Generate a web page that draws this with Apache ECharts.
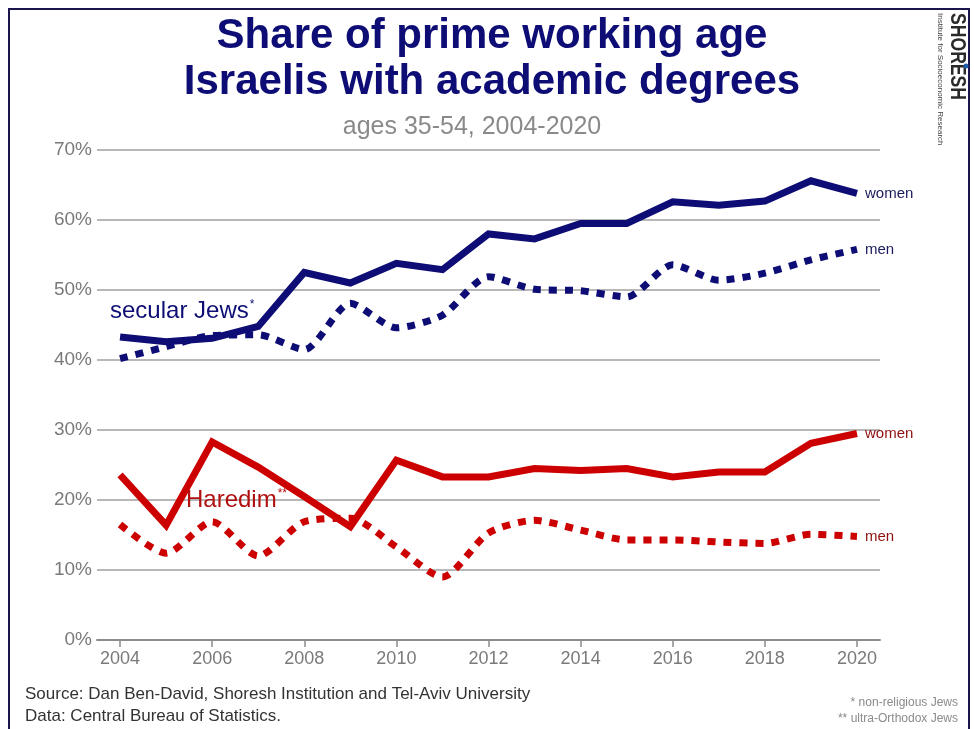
<!DOCTYPE html>
<html>
<head>
<meta charset="utf-8">
<title>Share of prime working age Israelis with academic degrees</title>
<script src="https://cdn.jsdelivr.net/npm/echarts@6/dist/echarts.min.js"></script>
<style>
  html, body { margin: 0; padding: 0; background: #ffffff; }
  #chart { width: 974px; height: 729px; }
</style>
</head>
<body>
<div id="chart"></div>
<script>
// Years on the horizontal axis
const years = ['2004','2005','2006','2007','2008','2009','2010','2011','2012',
               '2013','2014','2015','2016','2017','2018','2019','2020'];

// Share with academic degrees, ages 35-54 (percent)
const secularWomen = [43.3, 42.6, 43.1, 44.8, 52.5, 51.0, 53.8, 52.9, 58.0,
                      57.3, 59.5, 59.5, 62.6, 62.1, 62.7, 65.6, 63.8];
const secularMen   = [40.2, 41.9, 43.5, 43.6, 41.5, 48.1, 44.6, 46.4, 51.9,
                      50.1, 49.9, 49.0, 53.6, 51.4, 52.4, 54.3, 55.8];
const haredimWomen = [23.6, 16.4, 28.3, 24.7, 20.5, 16.2, 25.7, 23.3, 23.3,
                      24.5, 24.2, 24.5, 23.3, 24.0, 24.0, 28.1, 29.5];
const haredimMen   = [16.5, 12.4, 16.9, 12.0, 16.9, 17.4, 13.3, 9.0, 15.3,
                      17.1, 15.7, 14.3, 14.3, 14.0, 13.8, 15.1, 14.8];

const yTicks = [0, 10, 20, 30, 40, 50, 60, 70];

const NAVY = '#0d0d75';
const RED = '#cc0000';
const FONT = '"Liberation Sans", Arial, sans-serif';

const chart = echarts.init(document.getElementById('chart'), null, { renderer: 'canvas' });

function lineSeries(name, data, color, dotted, labelColor) {
  return {
    name: name,
    type: 'line',
    data: data,
    symbol: 'none',
    smooth: dotted ? 0.25 : false,
    z: dotted ? 3 : 4,
    lineStyle: {
      color: color,
      width: 7,
      type: dotted ? [8, 8] : 'solid',
      cap: 'butt',
      join: dotted ? 'round' : 'miter'
    },
    endLabel: {
      show: true,
      formatter: dotted ? 'men' : 'women',
      color: labelColor,
      fontFamily: FONT,
      fontSize: 15,
      distance: 8
    },
    emphasis: { disabled: true }
  };
}

const option = {
  backgroundColor: '#ffffff',
  animation: false,
  textStyle: { fontFamily: FONT },
  title: [
    {
      text: 'Share of prime working age\nIsraelis with academic degrees',
      left: 487, top: 8, textAlign: 'center',
      textStyle: { color: NAVY, fontSize: 42, fontWeight: 'bold', fontFamily: FONT, lineHeight: 46 }
    },
    {
      text: 'ages 35-54, 2004-2020',
      left: 467, top: 110, textAlign: 'center',
      textStyle: { color: '#8a8a8a', fontSize: 25, fontWeight: 'normal', fontFamily: FONT }
    }
  ],
  grid: { left: 97, right: 94, top: 150, bottom: 89, containLabel: false },
  xAxis: {
    type: 'category',
    data: years,
    boundaryGap: true,
    axisLine: { show: true, lineStyle: { color: '#8c8c8c', width: 2 } },
    axisTick: { show: true, interval: 1, alignWithLabel: true, length: 7, lineStyle: { color: '#8c8c8c', width: 1.5 } },
    axisLabel: { interval: 1, color: '#7a7a7a', fontSize: 18, fontFamily: FONT, margin: 10 },
    splitLine: { show: false }
  },
  yAxis: {
    type: 'value',
    min: yTicks[0], max: yTicks[yTicks.length - 1], interval: 10,
    axisLine: { show: false },
    axisTick: { show: false },
    axisLabel: { formatter: '{value}%', color: '#7a7a7a', fontSize: 19, fontFamily: FONT, margin: 5 },
    splitLine: { show: true, lineStyle: { color: '#a0a0a0', width: 1.5 } }
  },
  series: [
    lineSeries('Secular Jews - women', secularWomen, NAVY, false, '#1a1a5c'),
    lineSeries('Secular Jews - men', secularMen, NAVY, true, '#1a1a5c'),
    lineSeries('Haredim - women', haredimWomen, RED, false, '#8e1010'),
    lineSeries('Haredim - men', haredimMen, RED, true, '#8e1010')
  ],
  graphic: [
    // outer frame
    {
      type: 'rect', shape: { x: 9, y: 9, width: 960, height: 740 },
      style: { fill: null, stroke: '#1a1450', lineWidth: 2 }, silent: true, z: 0
    },
    // group annotations
    {
      type: 'text', left: 110, top: 299,
      style: {
        text: '{m|secular Jews}{s|*}',
        rich: {
          m: { fill: NAVY, fontSize: 24, fontFamily: FONT },
          s: { fill: NAVY, fontSize: 12, fontFamily: FONT, verticalAlign: 'top', padding: [0, 0, 13, 1] }
        }
      }, z: 10
    },
    {
      type: 'text', left: 186, top: 488,
      style: {
        text: '{m|Haredim}{s|**}',
        rich: {
          m: { fill: '#b01010', fontSize: 24, fontFamily: FONT },
          s: { fill: '#b01010', fontSize: 12, fontFamily: FONT, verticalAlign: 'top', padding: [0, 0, 13, 1] }
        }
      }, z: 10
    },
    // source lines
    {
      type: 'text', left: 25, top: 686,
      style: { text: 'Source: Dan Ben-David, Shoresh Institution and Tel-Aviv University', fill: '#333333', fontSize: 17, fontFamily: FONT }
    },
    {
      type: 'text', left: 25, top: 708,
      style: { text: 'Data: Central Bureau of Statistics.', fill: '#333333', fontSize: 17, fontFamily: FONT }
    },
    // footnotes
    {
      type: 'text', right: 16, top: 697,
      style: { text: '* non-religious Jews', fill: '#8a8a8a', fontSize: 12, fontFamily: FONT }
    },
    {
      type: 'text', right: 16, top: 713,
      style: { text: '** ultra-Orthodox Jews', fill: '#8a8a8a', fontSize: 12, fontFamily: FONT }
    },
    // institute logo, set vertically (reads top to bottom)
    {
      type: 'text', x: 946, y: 13, rotation: -Math.PI / 2, scaleX: 0.8,
      style: { text: 'SHORESH', fill: '#2a2a2a', fontSize: 22, fontWeight: 'bold', fontFamily: FONT,
               align: 'left', verticalAlign: 'bottom' }
    },
    {
      type: 'text', x: 944, y: 13, rotation: -Math.PI / 2,
      style: { text: 'Institute for Socioeconomic Research', fill: '#444444', fontSize: 8, fontFamily: FONT,
               align: 'left', verticalAlign: 'top' }
    },
    {
      type: 'circle', shape: { cx: 966, cy: 66, r: 2.5 },
      style: { fill: '#1f5fa8' }
    }
  ]
};

chart.setOption(option);
</script>
</body>
</html>
